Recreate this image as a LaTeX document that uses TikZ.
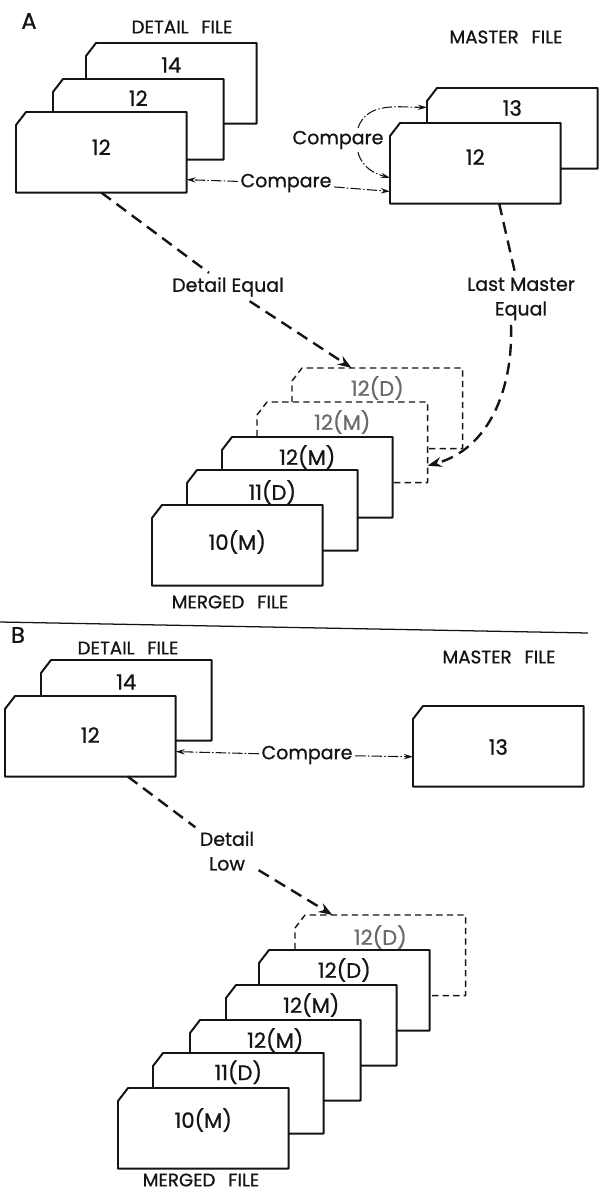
\documentclass[tikz,border=0pt]{standalone}
\usepackage{fontspec}
\setmainfont{Poppins}[FakeBold=.9]
\usetikzlibrary{arrows.meta,calc,positioning}
\definecolor{fInk}{HTML}{141414}
\definecolor{fGhost}{HTML}{6A6A6A}
\tikzset{
 ledger/.style={line join=round,text=fInk},
 card/.style={rectangle,minimum width=42.5mm,minimum height=20mm,inner sep=0pt,anchor=north west},
 solidcard/.style={draw=fInk,fill=white,line width=1.4pt},
 ghostcard/.style={draw=fInk,fill=white,line width=1pt,dash pattern=on 4.5pt off 3pt},
 solidnum/.style={font=\fontsize{15}{17}\selectfont,inner sep=1pt},
 ghostnum/.style={solidnum,text=fGhost},
 cmptext/.style={font=\fontsize{13.5}{16}\selectfont,inner sep=2pt},
 flowtext/.style={font=\fontsize{13.5}{17.5}\selectfont,inner sep=3pt,align=center},
 filetitle/.style={font=\fontsize{13}{15}\selectfont},
 panelhead/.style={font=\fontsize{16}{18}\selectfont},
 compare/.style={draw=fInk,line width=.75pt,line cap=round,dash pattern=on 7pt off 2pt on .6pt off 2pt,-{Stealth[length=6.5pt,width=3.8pt]}},
 flowline/.style={draw=fInk,line width=1.7pt,dash pattern=on 8.5pt off 5pt},
 flow/.style={flowline,-{Stealth[length=10pt,width=7pt]}},
 sepline/.style={draw=fInk,line width=.9pt}
}
% card: [solid|ghost]{name}{top left}{number}{drop of the number}
\newcommand{\fileCard}[5][solid]{%
 \node[card] (#2) at (#3) {};
 \filldraw[#1card] (#2.north west) ++(0,-13) -- ++(10,13) -- (#2.north east)
   -- (#2.south east) -- (#2.south west) -- cycle;
 \node[#1num] (#2-num) at ([yshift=-#5]#2.north) {#4};}

\begin{document}
\begin{tikzpicture}[ledger,x=.25mm,y=.25mm]
 \useasboundingbox (0,0) rectangle (601,-1195);
 % panel A
 \node[panelhead] (capA) at (29,-21) {A};
 \node[filetitle] (detHdA) at (182,-27) {DETAIL\hspace{.7em}FILE};
 \node[filetitle] (masHdA) at (506,-37) {MASTER\hspace{.7em}FILE};
 \fileCard{detA1}{86,-43}{14}{5.5mm}
 \fileCard{detA2}{53,-79}{12}{4.8mm}
 \fileCard{detA3}{16,-112}{12}{8.8mm}
 \fileCard{masA1}{427,-88}{13}{5mm}
 \fileCard{masA2}{390,-123}{12}{8.5mm}
 \fileCard[ghost]{mrgA5}{292,-368}{12(D)}{5mm}
 \fileCard[ghost]{mrgA4}{257,-402}{12(M)}{5mm}
 \fileCard{mrgA3}{222,-437}{12(M)}{5mm}
 \fileCard{mrgA2}{187,-470}{11(D)}{5.5mm}
 \fileCard{mrgA1}{152,-505}{10(M)}{9.25mm}
 \node[filetitle] (mrgHdA) at (230,-602) {MERGED\hspace{.7em}FILE};

 \node[cmptext] (cmpA) at (286,-183) {Compare};
 \draw[compare] (cmpA) -- ($(detA3.north east)!.84!(detA3.south east)$);
 \draw[compare] (cmpA) -- ($(masA2.north west)!.85!(masA2.south west)$);
 \node[cmptext] (cmpB) at (338,-140) {Compare};
 \draw[compare] ([xshift=5mm]cmpB.north) to[out=70,in=180] ($(masA1.north west)!.24!(masA1.south west)$);
 \draw[compare] ([xshift=5mm]cmpB.south) to[out=-75,in=165] ($(masA2.north west)!.68!(masA2.south west)$);

 \node[flowtext] (deqA) at (228,-287) {Detail Equal};
 \draw[flowline] (detA3.south) -- (deqA);
 \draw[flow] (deqA) -- ($(mrgA5.north west)!.35!(mrgA5.north east)$);
 \node[flowtext] (lmeA) at (521,-299) {Last Master\\Equal};
 \draw[flowline] ($(masA2.south west)!.64!(masA2.south east)$) -- (lmeA);
 \draw[flow] ([xshift=-2.5mm]lmeA.south) to[out=-88,in=15] ($(mrgA4.north east)!.79!(mrgA4.south east)$);

 \draw[sepline] (0,-622) -- (588,-633);

 % panel B
 \node[panelhead] (capB) at (18,-635) {B};
 \node[filetitle] (detHdB) at (128,-648) {DETAIL\hspace{.7em}FILE};
 \node[filetitle] (masHdB) at (499,-657) {MASTER\hspace{.7em}FILE};
 \fileCard{detB1}{41,-660}{14}{5.5mm}
 \fileCard{detB2}{5,-696}{12}{9.75mm}
 \fileCard{masB1}{413,-706}{13}{10.25mm}
 \fileCard[ghost]{mrgB6}{295,-915}{12(D)}{5.5mm}
 \fileCard{mrgB5}{259,-950}{12(D)}{5mm}
 \fileCard{mrgB4}{226,-985}{12(M)}{5mm}
 \fileCard{mrgB3}{190,-1020}{12(M)}{5mm}
 \fileCard{mrgB2}{153,-1053}{11(D)}{4.8mm}
 \fileCard{mrgB1}{118,-1088}{10(M)}{8mm}
 \node[filetitle] (mrgHdB) at (201,-1180) {MERGED\hspace{.7em}FILE};

 \node[cmptext] (cmpC) at (307,-755) {Compare};
 \draw[compare] (cmpC) -- ($(detB2.north east)!.69!(detB2.south east)$);
 \draw[compare] (cmpC) -- ($(masB1.north west)!.63!(masB1.south west)$);
 \node[flowtext] (dlowB) at (227,-851) {Detail\\Low};
 \draw[flowline] ($(detB2.south west)!.72!(detB2.south east)$) -- (dlowB);
 \draw[flow] (dlowB) -- ($(mrgB6.north west)!.22!(mrgB6.north east)$);
\end{tikzpicture}
\end{document}
